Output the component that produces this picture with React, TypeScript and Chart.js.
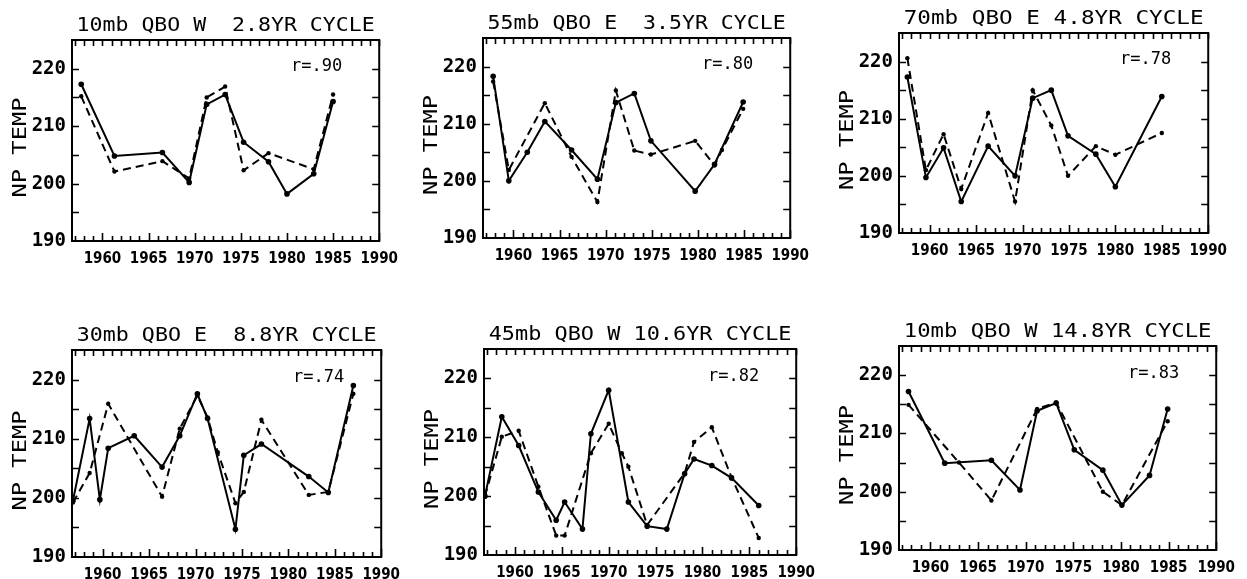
import React, { useEffect, useRef } from "react";
import { Chart, registerables } from "chart.js";

Chart.register(...registerables);

// ---------- Axis ticks / labels ----------
const xTickYears = [1960, 1965, 1970, 1975, 1980, 1985, 1990];
const yTickTemps = [190, 200, 210, 220];
const xMinYear = 1956.7;
const xMaxYear = 1990;
const yMinTemp = 190;
const yMaxTemp = 225;

const panelTitles = [
  "10mb QBO W  2.8YR CYCLE",
  "55mb QBO E  3.5YR CYCLE",
  "70mb QBO E 4.8YR CYCLE",
  "30mb QBO E  8.8YR CYCLE",
  "45mb QBO W 10.6YR CYCLE",
  "10mb QBO W 14.8YR CYCLE",
];
const correlationLabels = ["r=.90", "r=.80", "r=.78", "r=.74", "r=.82", "r=.83"];
const yAxisTitle = "NP TEMP";

// ---------- Panel 1: 10mb QBO W 2.8 yr ----------
const p1SolidYears = [1957.7, 1961.3, 1966.5, 1969.4, 1971.3, 1973.3, 1975.3, 1978.0, 1980.0, 1982.9, 1985.0];
const p1SolidTemps = [217.3, 204.8, 205.4, 200.2, 213.8, 215.5, 207.2, 203.8, 198.2, 201.7, 214.3];
const p1DashYears = [1957.7, 1961.3, 1966.5, 1969.4, 1971.3, 1973.3, 1975.3, 1978.0, 1982.9, 1985.0];
const p1DashTemps = [215.2, 202.1, 203.9, 200.9, 215.0, 216.9, 202.3, 205.3, 202.5, 215.5];

// ---------- Panel 2: 55mb QBO E 3.5 yr ----------
const p2SolidYears = [1957.8, 1959.5, 1961.5, 1963.4, 1966.3, 1969.1, 1971.1, 1973.1, 1974.9, 1979.7, 1981.8, 1984.9];
const p2SolidTemps = [218.3, 200.0, 205.0, 210.4, 205.4, 200.3, 213.7, 215.3, 207.0, 198.2, 202.9, 213.8];
const p2DashYears = [1957.8, 1959.5, 1963.4, 1966.3, 1969.1, 1971.1, 1973.1, 1974.9, 1979.7, 1981.8, 1982.6, 1984.9];
const p2DashTemps = [217.4, 201.9, 213.6, 204.2, 196.3, 215.8, 205.3, 204.6, 207.0, 202.7, 205.4, 212.6];

// ---------- Panel 3: 70mb QBO E 4.8 yr ----------
const p3SolidYears = [1957.6, 1959.6, 1961.5, 1963.4, 1966.3, 1969.2, 1971.1, 1973.1, 1974.9, 1977.9, 1980.0, 1985.0];
const p3SolidTemps = [217.3, 199.7, 204.9, 195.5, 205.2, 200.0, 213.6, 215.0, 207.0, 203.8, 198.1, 213.9];
const p3DashYears = [1957.6, 1959.6, 1961.5, 1963.4, 1966.3, 1969.2, 1971.1, 1973.1, 1974.9, 1977.9, 1980.0, 1985.0];
const p3DashTemps = [220.6, 201.0, 207.3, 197.7, 211.0, 195.5, 215.0, 208.8, 200.0, 205.2, 203.7, 207.5];

// ---------- Panel 4: 30mb QBO E 8.8 yr ----------
const p4SolidYears = [1956.8, 1958.6, 1959.7, 1960.6, 1963.4, 1966.4, 1968.3, 1970.2, 1971.3, 1974.3, 1975.2, 1977.1, 1982.2, 1984.3, 1987.0];
const p4SolidTemps = [199.5, 213.4, 199.7, 208.4, 210.5, 205.2, 210.5, 217.6, 213.4, 194.7, 207.2, 209.1, 203.6, 200.9, 219.0];
const p4DashYears = [1956.8, 1958.6, 1960.6, 1966.4, 1968.3, 1970.2, 1971.3, 1972.4, 1974.3, 1975.2, 1977.1, 1982.2, 1984.3, 1987.0];
const p4DashTemps = [199.2, 204.2, 215.9, 200.2, 211.7, 217.3, 213.6, 207.7, 199.1, 201.0, 213.2, 200.5, 201.0, 217.6];

// ---------- Panel 5: 45mb QBO W 10.6 yr ----------
const p5SolidYears = [1956.8, 1958.6, 1960.4, 1962.5, 1964.4, 1965.3, 1967.2, 1968.1, 1970.0, 1972.1, 1974.1, 1976.2, 1978.1, 1979.1, 1981.0, 1983.1, 1986.0];
const p5SolidTemps = [200.0, 213.5, 208.6, 200.7, 195.9, 199.0, 194.4, 210.6, 218.0, 199.0, 194.9, 194.4, 203.8, 206.3, 205.2, 203.1, 198.4];
const p5DashYears = [1956.8, 1958.6, 1960.4, 1962.5, 1964.4, 1965.3, 1968.1, 1970.0, 1971.4, 1972.1, 1974.1, 1978.1, 1979.1, 1981.0, 1983.1, 1986.0];
const p5DashTemps = [200.0, 210.1, 211.1, 201.6, 193.3, 193.3, 207.3, 212.3, 207.3, 205.0, 195.1, 203.9, 209.2, 211.7, 203.2, 192.9];

// ---------- Panel 6: 10mb QBO W 14.8 yr ----------
const p6SolidYears = [1957.7, 1961.5, 1966.4, 1969.4, 1971.2, 1973.2, 1975.1, 1978.1, 1980.1, 1983.0, 1984.9];
const p6SolidTemps = [217.2, 204.9, 205.4, 200.3, 213.9, 215.2, 207.2, 203.7, 197.7, 202.8, 214.2];
const p6DashYears = [1957.7, 1963.0, 1966.4, 1971.2, 1973.2, 1978.1, 1980.1, 1984.9];
const p6DashTemps = [214.9, 205.0, 198.5, 214.2, 215.3, 200.0, 197.7, 212.1];

// ---------- Layout (plot-box positions on the page) ----------
const panelBoxes = [
  { left: 72, top: 40, right: 381, bottom: 241 },
  { left: 483, top: 38, right: 792, bottom: 238 },
  { left: 899, top: 33, right: 1210, bottom: 233 },
  { left: 72, top: 350, right: 383, bottom: 557 },
  { left: 484, top: 349, right: 798, bottom: 555 },
  { left: 899, top: 346, right: 1218, bottom: 550 },
];

const panels = [
  { sy: p1SolidYears, st: p1SolidTemps, dy: p1DashYears, dt: p1DashTemps },
  { sy: p2SolidYears, st: p2SolidTemps, dy: p2DashYears, dt: p2DashTemps },
  { sy: p3SolidYears, st: p3SolidTemps, dy: p3DashYears, dt: p3DashTemps },
  { sy: p4SolidYears, st: p4SolidTemps, dy: p4DashYears, dt: p4DashTemps },
  { sy: p5SolidYears, st: p5SolidTemps, dy: p5DashYears, dt: p5DashTemps },
  { sy: p6SolidYears, st: p6SolidTemps, dy: p6DashYears, dt: p6DashTemps },
].map((d, i) => ({ ...d, title: panelTitles[i], r: correlationLabels[i], box: panelBoxes[i] }));

const PAD_L = 72;
const PAD_T = 40;
const PAD_R = 26;
const PAD_B = 30;
const MONO = '"DejaVu Sans Mono", "Liberation Mono", monospace';

type PanelCfg = (typeof panels)[number];

function Panel({ cfg }: { cfg: PanelCfg }) {
  const ref = useRef<HTMLCanvasElement | null>(null);
  const { box } = cfg;
  const w = box.right - box.left + PAD_L + PAD_R;
  const h = box.bottom - box.top + PAD_T + PAD_B;

  useEffect(() => {
    if (!ref.current) return;
    const framePlugin = {
      id: "framePlugin",
      afterDatasetsDraw(chart: any) {
        const { ctx, chartArea: a, scales } = chart;
        const xs = scales.x;
        const ys = scales.y;
        ctx.save();
        ctx.strokeStyle = "#000";
        ctx.fillStyle = "#000";
        ctx.lineWidth = 2;
        ctx.strokeRect(a.left, a.top, a.right - a.left, a.bottom - a.top);
        // inward year ticks (top and bottom)
        ctx.lineWidth = 1.6;
        ctx.beginPath();
        for (let yr = Math.ceil(xs.min); yr <= Math.floor(xs.max); yr++) {
          const px = Math.round(xs.getPixelForValue(yr)) + 0.5;
          const lenB = yr % 5 === 0 ? 8 : 5;
          ctx.moveTo(px, a.bottom);
          ctx.lineTo(px, a.bottom - lenB);
          ctx.moveTo(px, a.top);
          ctx.lineTo(px, a.top + 6);
        }
        // inward temperature ticks (left and right), every 5 units
        for (let t = Math.ceil(ys.min / 5) * 5 + 5; t < ys.max; t += 5) {
          const py = Math.round(ys.getPixelForValue(t)) + 0.5;
          ctx.moveTo(a.left, py);
          ctx.lineTo(a.left + 7, py);
          ctx.moveTo(a.right, py);
          ctx.lineTo(a.right - 7, py);
        }
        ctx.stroke();

        // title
        ctx.font = `19px ${MONO}`;
        ctx.textAlign = "center";
        ctx.textBaseline = "middle";
        const tw = ctx.measureText(cfg.title).width;
        const target = (a.right - a.left) * 0.97;
        ctx.save();
        ctx.translate((a.left + a.right) / 2, a.top - 14);
        ctx.scale(target / tw, 1);
        ctx.fillText(cfg.title, 0, 0);
        ctx.restore();

        // y-axis title
        ctx.font = `19px ${MONO}`;
        const yw = ctx.measureText(yAxisTitle).width;
        ctx.save();
        ctx.translate(a.left - 51, (a.top + a.bottom) / 2 + 7);
        ctx.rotate(-Math.PI / 2);
        ctx.scale(100 / yw, 1);
        ctx.fillText(yAxisTitle, 0, 0);
        ctx.restore();

        // correlation label
        ctx.font = `17px ${MONO}`;
        ctx.textAlign = "right";
        ctx.fillText(cfg.r, a.right - 37, ys.getPixelForValue(220.3));
        ctx.restore();
      },
    };

    const chart = new Chart(ref.current, {
      type: "line",
      data: {
        datasets: [
          {
            data: cfg.sy.map((x, i) => ({ x, y: cfg.st[i] })),
            borderColor: "#000",
            backgroundColor: "#000",
            borderWidth: 2,
            pointRadius: 2.8,
            pointBorderWidth: 0,
            pointBackgroundColor: "#000",
            tension: 0,
            fill: false,
          },
          {
            data: cfg.dy.map((x, i) => ({ x, y: cfg.dt[i] })),
            borderColor: "#000",
            backgroundColor: "#000",
            borderWidth: 2,
            borderDash: [8, 5],
            pointRadius: 2.2,
            pointBorderWidth: 0,
            pointBackgroundColor: "#000",
            tension: 0,
            fill: false,
          },
        ],
      },
      options: {
        responsive: false,
        animation: false,
        devicePixelRatio: 1,
        layout: { padding: { left: 0, top: PAD_T, right: PAD_R, bottom: 0 } },
        plugins: {
          legend: { display: false },
          tooltip: { enabled: false },
          title: { display: false },
        },
        scales: {
          x: {
            type: "linear",
            min: xMinYear,
            max: xMaxYear,
            grid: { display: false, drawTicks: false },
            border: { display: false },
            afterBuildTicks: (s: any) => {
              s.ticks = xTickYears.map((v) => ({ value: v }));
            },
            afterFit: (s: any) => {
              s.height = PAD_B;
            },
            ticks: {
              callback: (v: any) => String(v),
              color: "#000",
              autoSkip: false,
              maxRotation: 0,
              padding: 9,
              font: { family: '"Liberation Sans Narrow", "DejaVu Sans Condensed", "DejaVu Sans Mono", sans-serif', size: 15, weight: "bold" },
            },
          },
          y: {
            type: "linear",
            min: yMinTemp,
            max: yMaxTemp,
            grid: { display: false, drawTicks: false },
            border: { display: false },
            afterBuildTicks: (s: any) => {
              s.ticks = yTickTemps.map((v) => ({ value: v }));
            },
            afterFit: (s: any) => {
              s.width = PAD_L;
            },
            ticks: {
              callback: (v: any) => String(v),
              color: "#000",
              padding: 6,
              font: { family: MONO, size: 19, weight: "bold" },
            },
          },
        },
      },
      plugins: [framePlugin],
    } as any);
    return () => chart.destroy();
  }, [cfg]);

  return (
    <canvas
      ref={ref}
      width={w}
      height={h}
      style={{ position: "absolute", left: box.left - PAD_L, top: box.top - PAD_T, width: w, height: h }}
    />
  );
}

export default function App() {
  return (
    <div
      style={{
        position: "absolute",
        left: 0,
        top: 0,
        width: 1247,
        height: 579,
        overflow: "hidden",
        background: "#fff",
      }}
    >
      {panels.map((p, i) => (
        <Panel key={i} cfg={p} />
      ))}
    </div>
  );
}
